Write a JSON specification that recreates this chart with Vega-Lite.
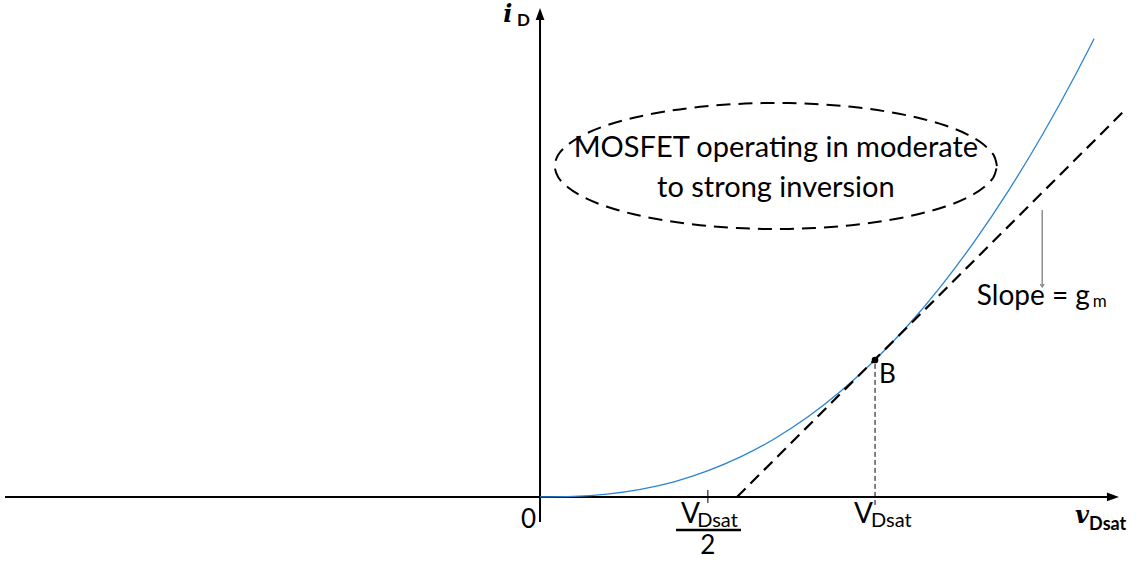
{
  "$schema": "https://vega.github.io/schema/vega-lite/v6.json",
  "width": 1136,
  "height": 563,
  "autosize": {"type": "fit", "contains": "padding"},
  "padding": 0,
  "background": "white",
  "config": {"view": {"stroke": null}},
  "datasets": {
    "curve": [
      {"x": 0.0, "y": 0.0},
      {"x": 0.1, "y": 0.004},
      {"x": 0.2, "y": 0.021},
      {"x": 0.3, "y": 0.056},
      {"x": 0.4, "y": 0.111},
      {"x": 0.5, "y": 0.19},
      {"x": 0.6, "y": 0.294},
      {"x": 0.7, "y": 0.425},
      {"x": 0.8, "y": 0.585},
      {"x": 0.9, "y": 0.777},
      {"x": 1.0, "y": 1.0},
      {"x": 1.1, "y": 1.257},
      {"x": 1.2, "y": 1.549},
      {"x": 1.3, "y": 1.877},
      {"x": 1.4, "y": 2.242},
      {"x": 1.5, "y": 2.646},
      {"x": 1.6, "y": 3.09},
      {"x": 1.654, "y": 3.346}
    ],
    "ellipse": [
      {"k": 0, "x": 1.364, "y": 2.416},
      {"k": 1, "x": 1.354, "y": 2.496},
      {"k": 2, "x": 1.324, "y": 2.573},
      {"k": 3, "x": 1.276, "y": 2.646},
      {"k": 4, "x": 1.21, "y": 2.712},
      {"k": 5, "x": 1.128, "y": 2.768},
      {"k": 6, "x": 1.034, "y": 2.814},
      {"k": 7, "x": 0.93, "y": 2.848},
      {"k": 8, "x": 0.819, "y": 2.869},
      {"k": 9, "x": 0.704, "y": 2.876},
      {"k": 10, "x": 0.589, "y": 2.869},
      {"k": 11, "x": 0.478, "y": 2.848},
      {"k": 12, "x": 0.374, "y": 2.814},
      {"k": 13, "x": 0.28, "y": 2.768},
      {"k": 14, "x": 0.198, "y": 2.712},
      {"k": 15, "x": 0.132, "y": 2.646},
      {"k": 16, "x": 0.084, "y": 2.573},
      {"k": 17, "x": 0.054, "y": 2.496},
      {"k": 18, "x": 0.044, "y": 2.416},
      {"k": 19, "x": 0.054, "y": 2.336},
      {"k": 20, "x": 0.084, "y": 2.259},
      {"k": 21, "x": 0.132, "y": 2.186},
      {"k": 22, "x": 0.198, "y": 2.12},
      {"k": 23, "x": 0.28, "y": 2.064},
      {"k": 24, "x": 0.374, "y": 2.018},
      {"k": 25, "x": 0.478, "y": 1.984},
      {"k": 26, "x": 0.589, "y": 1.963},
      {"k": 27, "x": 0.704, "y": 1.956},
      {"k": 28, "x": 0.819, "y": 1.963},
      {"k": 29, "x": 0.93, "y": 1.984},
      {"k": 30, "x": 1.034, "y": 2.018},
      {"k": 31, "x": 1.128, "y": 2.064},
      {"k": 32, "x": 1.21, "y": 2.12},
      {"k": 33, "x": 1.276, "y": 2.186},
      {"k": 34, "x": 1.324, "y": 2.259},
      {"k": 35, "x": 1.354, "y": 2.336},
      {"k": 36, "x": 1.364, "y": 2.416}
    ]
  },
  "encoding": {
    "x": {"field": "x", "type": "quantitative", "scale": {"domain": [-1.612, 1.779], "nice": false, "zero": false}, "axis": null},
    "y": {"field": "y", "type": "quantitative", "scale": {"domain": [-0.482, 3.628], "nice": false, "zero": false}, "axis": null}
  },
  "layer": [
    {
      "description": "horizontal axis (v_Dsat)",
      "data": {"values": [{"x": -1.597, "x2": 1.7, "y": 0}]},
      "mark": {"type": "rule", "color": "black", "strokeWidth": 2},
      "encoding": {"x2": {"field": "x2"}}
    },
    {
      "description": "vertical axis (i_D)",
      "data": {"values": [{"x": 0, "y": -0.182, "y2": 3.49}]},
      "mark": {"type": "rule", "color": "black", "strokeWidth": 2},
      "encoding": {"y2": {"field": "y2"}}
    },
    {
      "data": {"values": [{"x": 1.728, "y": 0}]},
      "mark": {"type": "point", "shape": "M0,0L-3,-1.1L-3,1.1Z", "size": 64, "filled": true, "color": "black", "opacity": 1}
    },
    {
      "data": {"values": [{"x": 0, "y": 3.57}]},
      "mark": {"type": "point", "shape": "M0,0L-1.1,3L1.1,3Z", "size": 64, "filled": true, "color": "black", "opacity": 1}
    },
    {
      "description": "tick at V_Dsat/2",
      "data": {"values": [{"x": 0.501, "y": -0.044, "y2": 0.051}]},
      "mark": {"type": "rule", "color": "black", "strokeWidth": 1},
      "encoding": {"y2": {"field": "y2"}}
    },
    {
      "description": "drain current curve",
      "data": {"name": "curve"},
      "mark": {"type": "line", "color": "#2a84d2", "strokeWidth": 1.3, "interpolate": "monotone"}
    },
    {
      "description": "tangent at B, slope g_m",
      "data": {"values": [{"x": 0.588, "y": 0}, {"x": 1.752, "y": 2.839}]},
      "mark": {"type": "line", "color": "black", "strokeWidth": 2.2, "strokeDash": [12, 7]}
    },
    {
      "description": "drop line from B to the axis",
      "data": {"values": [{"x": 1.0, "y": -0.058, "y2": 1.0}]},
      "mark": {"type": "rule", "color": "black", "strokeWidth": 1, "strokeDash": [5, 3]},
      "encoding": {"y2": {"field": "y2"}}
    },
    {
      "data": {"values": [{"x": 1.0, "y": 1.0}]},
      "mark": {"type": "point", "shape": "circle", "size": 45, "filled": true, "color": "black", "opacity": 1}
    },
    {
      "description": "dashed ellipse around the note",
      "data": {"name": "ellipse"},
      "mark": {"type": "line", "color": "black", "strokeWidth": 2, "strokeDash": [14, 8], "interpolate": "catmull-rom"},
      "encoding": {"order": {"field": "k", "type": "quantitative"}}
    },
    {
      "description": "pointer to the tangent",
      "data": {"values": [{"x": 1.499, "y": 2.095, "y2": 1.54}]},
      "mark": {"type": "rule", "color": "#7f7f7f", "strokeWidth": 1.3},
      "encoding": {"y2": {"field": "y2"}}
    },
    {
      "data": {"values": [{"x": 1.499, "y": 1.533}]},
      "mark": {"type": "point", "shape": "M-1,-1.5L0,0L1,-1.5", "size": 16, "filled": false, "color": "#7f7f7f", "strokeWidth": 1.2, "opacity": 1}
    },
    {
      "data": {"values": [
        {"t": "MOSFET operating in moderate", "x": 0.704, "y": 2.482},
        {"t": "to strong inversion", "x": 0.704, "y": 2.19}
      ]},
      "mark": {"type": "text", "font": "Lato", "fontSize": 29, "align": "center", "baseline": "alphabetic", "color": "black"},
      "encoding": {"text": {"field": "t"}}
    },
    {
      "data": {"values": [
        {"t": "0", "x": -0.012, "y": -0.226}
      ]},
      "mark": {"type": "text", "font": "Lato", "fontSize": 26, "align": "right", "baseline": "alphabetic", "color": "black"},
      "encoding": {"text": {"field": "t"}}
    },
    {
      "data": {"values": [
        {"t": "V", "x": 0.937, "y": -0.19},
        {"t": "V", "x": 0.421, "y": -0.19}
      ]},
      "mark": {"type": "text", "font": "Lato", "fontSize": 28, "align": "left", "baseline": "alphabetic", "color": "black"},
      "encoding": {"text": {"field": "t"}}
    },
    {
      "data": {"values": [
        {"t": "Dsat", "x": 0.988, "y": -0.219},
        {"t": "Dsat", "x": 0.469, "y": -0.219}
      ]},
      "mark": {"type": "text", "font": "Lato", "fontSize": 20, "align": "left", "baseline": "alphabetic", "color": "black"},
      "encoding": {"text": {"field": "t"}}
    },
    {
      "description": "fraction bar of V_Dsat/2",
      "data": {"values": [{"x": 0.406, "x2": 0.6, "y": -0.241}]},
      "mark": {"type": "rule", "color": "black", "strokeWidth": 2.5},
      "encoding": {"x2": {"field": "x2"}}
    },
    {
      "data": {"values": [{"t": "2", "x": 0.501, "y": -0.416}]},
      "mark": {"type": "text", "font": "Lato", "fontSize": 26, "align": "center", "baseline": "alphabetic", "color": "black"},
      "encoding": {"text": {"field": "t"}}
    },
    {
      "data": {"values": [{"t": "v", "x": 1.597, "y": -0.19}]},
      "mark": {"type": "text", "font": "DejaVu Serif", "fontStyle": "italic", "fontWeight": "bold", "fontSize": 24, "align": "left", "baseline": "alphabetic", "color": "black"},
      "encoding": {"text": {"field": "t"}}
    },
    {
      "data": {"values": [{"t": "Dsat", "x": 1.639, "y": -0.241}]},
      "mark": {"type": "text", "font": "Lato", "fontWeight": "bold", "fontSize": 18, "align": "left", "baseline": "alphabetic", "color": "black"},
      "encoding": {"text": {"field": "t"}}
    },
    {
      "data": {"values": [{"t": "i", "x": -0.11, "y": 3.467}]},
      "mark": {"type": "text", "font": "DejaVu Serif", "fontStyle": "italic", "fontWeight": "bold", "fontSize": 24, "align": "left", "baseline": "alphabetic", "color": "black"},
      "encoding": {"text": {"field": "t"}}
    },
    {
      "data": {"values": [{"t": "D", "x": -0.069, "y": 3.438}]},
      "mark": {"type": "text", "font": "Lato", "fontWeight": "bold", "fontSize": 17, "align": "left", "baseline": "alphabetic", "color": "black"},
      "encoding": {"text": {"field": "t"}}
    },
    {
      "data": {"values": [{"t": "B", "x": 1.012, "y": 0.832}]},
      "mark": {"type": "text", "font": "Lato", "fontSize": 26, "align": "left", "baseline": "alphabetic", "color": "black"},
      "encoding": {"text": {"field": "t"}}
    },
    {
      "data": {"values": [{"t": "Slope = g", "x": 1.304, "y": 1.401}]},
      "mark": {"type": "text", "font": "Lato", "fontSize": 28, "align": "left", "baseline": "alphabetic", "color": "black"},
      "encoding": {"text": {"field": "t"}}
    },
    {
      "data": {"values": [{"t": "m", "x": 1.65, "y": 1.387}]},
      "mark": {"type": "text", "font": "Lato", "fontSize": 17, "align": "left", "baseline": "alphabetic", "color": "black"},
      "encoding": {"text": {"field": "t"}}
    }
  ]
}
